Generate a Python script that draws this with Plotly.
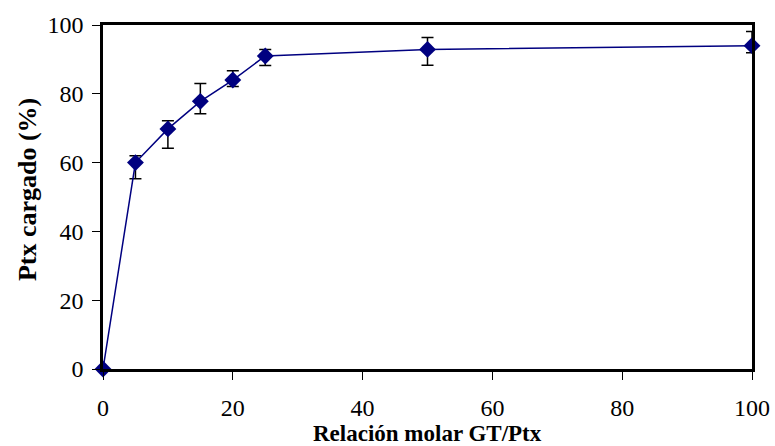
import plotly.graph_objects as go

ratio = [0, 5, 10, 15, 20, 25, 50, 100]
loaded = [0, 60.0, 69.8, 77.8, 84.0, 91.0, 92.9, 94.0]
err_plus = [0, 2.0, 2.4, 5.2, 2.7, 1.9, 3.5, 4.1]
err_minus = [0, 4.7, 5.6, 3.6, 1.9, 2.8, 4.6, 2.1]

x_ticks = [0, 20, 40, 60, 80, 100]
y_ticks = [0, 20, 40, 60, 80, 100]
x_title = "Relación molar GT/Ptx"
y_title = "Ptx cargado (%)"

fig = go.Figure()
fig.add_trace(go.Scatter(
    x=ratio, y=loaded, mode="lines+markers",
    line=dict(color="#000080", width=1.5),
    marker=dict(symbol="diamond", size=13, color="#000080"),
    error_y=dict(type="data", symmetric=False, array=err_plus, arrayminus=err_minus,
                 color="black", thickness=1.5, width=6),
    cliponaxis=False,
))

font_family = "Liberation Serif"
fig.update_layout(
    width=775, height=446,
    margin=dict(l=103, r=23, t=25, b=77, autoexpand=False),
    paper_bgcolor="white", plot_bgcolor="white",
    showlegend=False,
    font=dict(family=font_family, size=24, color="black"),
    xaxis=dict(range=[0, 100], tickvals=x_ticks, ticks="outside", ticklen=8, tickwidth=1,
               tickcolor="black", showline=True, linecolor="black", linewidth=2.5, mirror=True,
               showgrid=False, zeroline=False, ticklabelstandoff=7, automargin=False,
               tickfont=dict(family=font_family, size=24)),
    yaxis=dict(range=[0, 100], tickvals=y_ticks, ticks="outside", ticklen=8, tickwidth=1,
               tickcolor="black", showline=True, linecolor="black", linewidth=2.5, mirror=True,
               showgrid=False, zeroline=False, ticklabelstandoff=4, automargin=False,
               tickfont=dict(family=font_family, size=24)),
    annotations=[
        dict(text="<b>" + x_title + "</b>", xref="paper", yref="paper", x=0.5, y=0,
             xanchor="center", yanchor="middle", yshift=-64, showarrow=False, borderpad=0,
             font=dict(family=font_family, size=23)),
        dict(text="<b>" + y_title + "</b>", xref="paper", yref="paper", x=0, y=0.52,
             xanchor="center", yanchor="middle", xshift=-76, textangle=-90, showarrow=False,
             font=dict(family=font_family, size=26)),
    ],
)

fig.write_html("out.html")
